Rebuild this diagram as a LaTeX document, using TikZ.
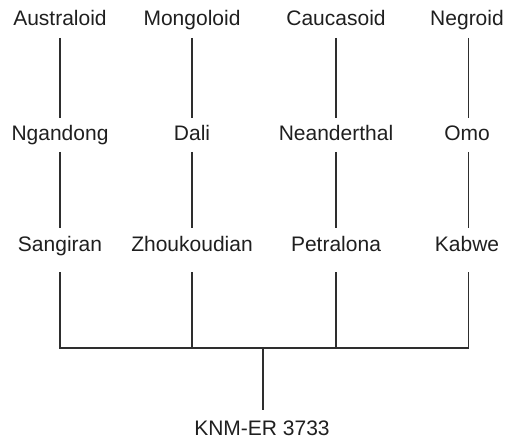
\documentclass[tikz,border=0pt]{standalone}
\usepackage{fontspec}
\setmainfont{Liberation Sans}
\usetikzlibrary{calc}
\begin{document}
\begin{tikzpicture}[x=1bp,y=-1bp,
  lbl/.style={anchor=base,inner sep=0pt,font=\fontsize{21bp}{25bp}\selectfont,text=black!88},
  conn/.style={line width=1.2bp,draw=black!82}]
\useasboundingbox (0,0) rectangle (505,438);
% rows
\node[lbl] (a1) at (60,26) {Australoid};
\node[lbl] (a2) at (192,26) {Mongoloid};
\node[lbl] (a3) at (336,26) {Caucasoid};
\node[lbl] (a4) at (467,26) {Negroid};
\node[lbl] (b1) at (60,141) {Ngandong};
\node[lbl] (b2) at (192,141) {Dali};
\node[lbl] (b3) at (336,141) {Neanderthal};
\node[lbl] (b4) at (467,141) {Omo};
\node[lbl] (c1) at (60,252) {Sangiran};
\node[lbl] (c2) at (192,252) {Zhoukoudian};
\node[lbl] (c3) at (336,252) {Petralona};
\node[lbl] (c4) at (467,252) {Kabwe};
\node[lbl] (k) at (262,435) {KNM-ER 3733};
\coordinate (j) at (263,348);
% connectors
\foreach \i/\dx in {1/0,2/0,3/0,4/1.5}{
  \draw[conn] ($(a\i.base)+(\dx,12)$) -- ($(b\i.base)+(\dx,-23)$);
  \draw[conn] ($(b\i.base)+(\dx,11)$) -- ($(c\i.base)+(\dx,-24)$);
}
\draw[conn] ($(c1.base)+(0,20)$) |- (j) -| ($(c4.base)+(1.5,20)$);
\draw[conn] ($(c2.base)+(0,20)$) -- (c2.base |- j);
\draw[conn] ($(c3.base)+(0,20)$) -- (c3.base |- j);
\draw[conn] (j) -- ($(k.base)+(1,-25)$);
\end{tikzpicture}
\end{document}
